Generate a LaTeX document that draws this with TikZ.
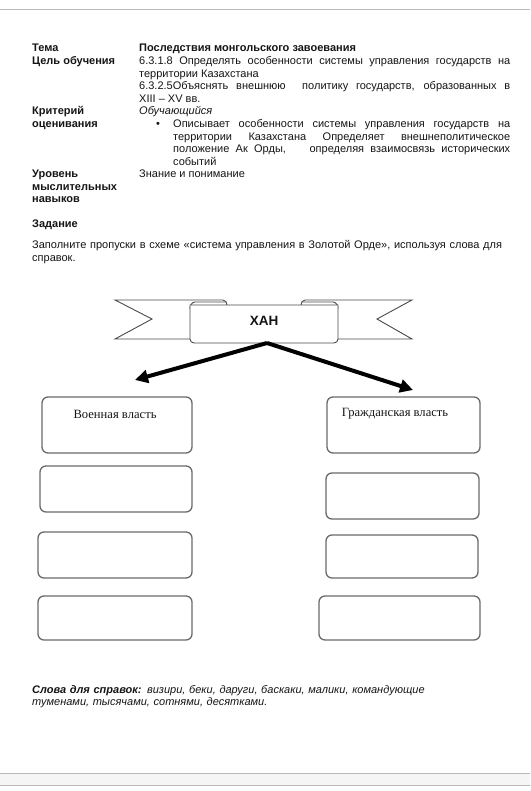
\documentclass[tikz,border=0pt]{standalone}
\usepackage{fontspec}
\setmainfont{Liberation Sans}
\newfontfamily\boxserif{Liberation Serif}
\usetikzlibrary{arrows.meta}
\definecolor{boxgrey}{HTML}{6A6A6A}
\definecolor{ribgrey}{HTML}{4A4A4A}
\definecolor{inkc}{HTML}{151515}
\begin{document}
\begin{tikzpicture}[x=1pt,y=-1pt,
  txt/.style={inner sep=0pt, anchor=base west, text=inkc, font=\fontsize{11}{12.5}\selectfont},
  para/.style={txt, align=justify},
  lab/.style={txt, font=\fontsize{11}{12.5}\selectfont\bfseries},
  blank/.style={draw=boxgrey, line width=1.3pt, rounded corners=6pt, inner sep=0pt},
  boxtext/.style={inner sep=0pt, text=inkc, font=\boxserif\fontsize{12.6}{14}\selectfont},
  ribbon/.style={draw=ribgrey, line width=0.9pt, fill=white},
  bigarrow/.style={line width=4pt, -{Triangle[length=13pt,width=13pt]}}
]
\useasboundingbox (0,0) rectangle (530,791);
\fill[white] (0,0) rectangle (530,791);

% page edges
\draw[gray!55, line width=1.5pt] (0,9.5) -- (530,9.5);
\fill[gray!8] (0,773.5) rectangle (530,785);
\draw[gray!55, line width=1pt] (0,773.5) -- (530,773.5);
\draw[gray!55, line width=1pt] (0,785) -- (530,785);

% header table
\node[lab] (tema) at (32,52) {Тема};
\node[lab] (temav) at (139,52) {Последствия монгольского завоевания};
\node[lab] (goal) at (32,65) {Цель обучения};
\node[para, text width=371pt] (goalv) at (139,65) {6.3.1.8 Определять особенности системы управления государств на\linebreak территории Казахстана\\ 6.3.2.5Объяснять внешнюю\hspace{0.8em} политику государств, образованных в\linebreak XIII – XV вв.};
\node[lab, align=left, text width=105pt] (crit) at (32,115) {Критерий\\оценивания};
\node[txt, font=\fontsize{11}{12.5}\selectfont\itshape] (critv) at (139,115) {Обучающийся};
\node[txt] (bul) at (156,128) {\textbullet};
\node[para, text width=337pt] (critb) at (173,128) {Описывает особенности системы управления государств на\linebreak территории Казахстана Определяет внешнеполитическое\linebreak положение Ак Орды,\hspace{1.5em} определяя взаимосвязь исторических\linebreak событий};
\node[lab, align=left, text width=105pt] (lvl) at (32,178) {Уровень\\мыслительных\\навыков};
\node[txt] (lvlv) at (139,178) {Знание и понимание};

% task
\node[lab] (task) at (32,228) {Задание};
\node[txt, align=left, text width=480pt] (taskv) at (32,249) {Заполните пропуски в схеме «система управления в Золотой Орде», используя слова для\\справок.};

% banner
\draw[ribbon] (227,305) to[out=90,in=0] (223,300) -- (115,300) -- (152,319) -- (115,339) -- (190,339);
\draw[ribbon] (301,305) to[out=90,in=180] (305,300) -- (412,300) -- (377,319) -- (412,339) -- (338,339);
\draw[ribbon] (190,309) to[out=90,in=180] (195,302) -- (226,302);
\draw[ribbon] (302,302) -- (333,302) to[out=0,in=90] (338,309);
\filldraw[ribbon] (190,305) -- (338,305) {[rounded corners=4pt] -- (338,343) -- (190,343)} -- cycle;
\node[inner sep=0pt, text=inkc, font=\fontsize{13.5}{15}\selectfont\bfseries] (khan) at (264,321) {ХАН};
\coordinate (fork) at (267,343);
\coordinate (ltip) at (135,380);
\coordinate (rtip) at (413,390);
\draw[bigarrow] (fork) -- (ltip);
\draw[bigarrow] (fork) -- (rtip);

% boxes
\node[blank, minimum width=150pt, minimum height=56pt] (L1) at (117,425) {};
\node[blank, minimum width=152pt, minimum height=46pt] (L2) at (116,489) {};
\node[blank, minimum width=154pt, minimum height=46pt] (L3) at (115,555) {};
\node[blank, minimum width=154pt, minimum height=44pt] (L4) at (115,618) {};
\node[blank, minimum width=153pt, minimum height=56pt] (R1) at (403.5,425) {};
\node[blank, minimum width=153pt, minimum height=46pt] (R2) at (402.5,496) {};
\node[blank, minimum width=152pt, minimum height=43pt] (R3) at (402,556.5) {};
\node[blank, minimum width=161pt, minimum height=44pt] (R4) at (399.5,618) {};
\node[boxtext] (milt) at (115,414) {Военная власть};
\node[boxtext] (civt) at (395,414) {Гражданская власть};

% word bank
\node[txt, align=left, text width=480pt, font=\fontsize{11}{12.5}\selectfont\itshape] (words) at (32,693) {\textbf{Слова для справок:} визири, беки, даруги, баскаки, малики, командующие\\туменами, тысячами, сотнями, десятками.};
\end{tikzpicture}
\end{document}
